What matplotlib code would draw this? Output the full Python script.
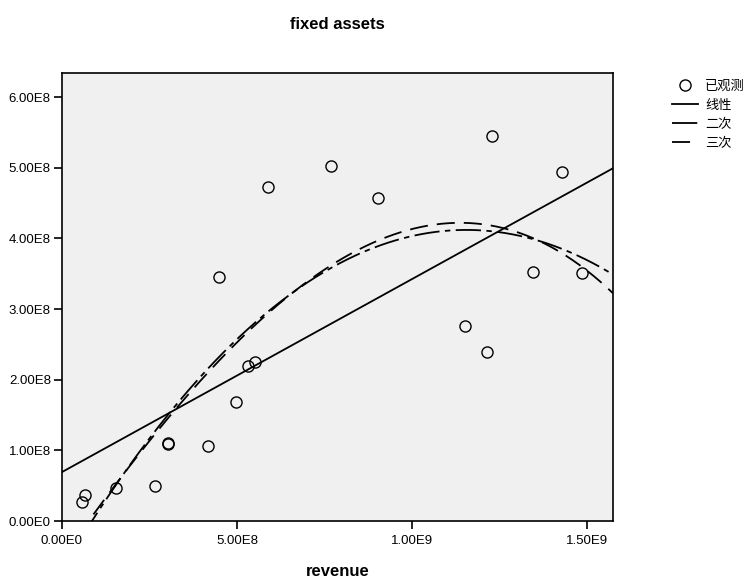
import numpy as np
import matplotlib
matplotlib.use("Agg")
import matplotlib.pyplot as plt
from matplotlib.ticker import FuncFormatter, MultipleLocator
from matplotlib.lines import Line2D

plt.rcParams['font.family'] = ['Liberation Sans', 'Noto Sans CJK SC', 'DejaVu Sans']

revenue = [0.571e8, 0.657e8, 1.54e8, 2.66e8, 3.02e8, 3.04e8, 4.17e8, 4.49e8, 4.97e8,
           5.31e8, 5.51e8, 5.89e8, 7.69e8, 9.03e8, 11.51e8, 12.14e8, 12.29e8,
           13.46e8, 14.29e8, 14.86e8]
fixed_assets = [0.269e8, 0.368e8, 0.467e8, 0.495e8, 1.10e8, 1.09e8, 1.06e8, 3.45e8, 1.68e8,
                2.19e8, 2.25e8, 4.72e8, 5.02e8, 4.57e8, 2.76e8, 2.39e8, 5.45e8,
                3.52e8, 4.94e8, 3.51e8]
legend_labels = ["已观测", "线性", "二次", "三次"]

x = np.array(revenue)
y = np.array(fixed_assets)

fig = plt.figure(figsize=(7.45, 5.78), dpi=100)
ax = fig.add_axes([0.0832, 0.0986, 0.8228 - 0.0832, 0.8737 - 0.0986])
ax.set_facecolor('#F0F0F0')

xmin, xmax = 0, 1.574e9
ymin, ymax = 0, 6.34e8
xs = np.linspace(xmin, xmax, 400)

p1 = np.polyfit(x, y, 1)
p2 = np.polyfit(x, y, 2)
p3 = np.polyfit(x, y, 3)

ax.plot(x, y, 'o', mfc='none', mec='black', ms=8, mew=1.0, zorder=5)
ax.plot(xs, np.polyval(p1, xs), '-', color='black', lw=1.3)
ax.plot(xs, np.polyval(p2, xs), color='black', lw=1.3, dashes=[14, 3, 3, 3])
ax.plot(xs, np.polyval(p3, xs), color='black', lw=1.3, dashes=[10, 5])

ax.set_xlim(xmin, xmax)
ax.set_ylim(ymin, ymax)
ax.xaxis.set_major_locator(MultipleLocator(5e8))
ax.yaxis.set_major_locator(MultipleLocator(1e8))


def fmt(v, pos):
    if v == 0:
        return "0.00E0"
    e = int(np.floor(np.log10(abs(v)) + 1e-9))
    m = v / 10 ** e
    return f"{m:.2f}E{e}"


ax.xaxis.set_major_formatter(FuncFormatter(fmt))
ax.yaxis.set_major_formatter(FuncFormatter(fmt))
ax.tick_params(direction='out', length=6, width=1.2, labelsize=9.5, colors='black', pad=2)
ax.tick_params(axis='x', pad=4)
for s in ax.spines.values():
    s.set_linewidth(1.2)

ax.set_title("fixed assets", fontsize=12, fontweight='bold', pad=32)
ax.set_xlabel("revenue", fontsize=12, fontweight='bold', labelpad=12)

handles = [
    Line2D([], [], marker='o', ls='none', mfc='none', mec='black', ms=8, mew=1.0),
    Line2D([], [], color='black', lw=1.3),
    Line2D([], [], color='black', lw=1.3, dashes=[14, 3, 3, 3]),
    Line2D([], [], color='black', lw=1.3, dashes=[10, 5]),
]
fig.legend(handles, legend_labels, loc='upper left', bbox_to_anchor=(0.886, 0.882),
           frameon=False, handlelength=2.0, handletextpad=0.5,
           labelspacing=0.45, prop={'family': ['Noto Sans CJK SC', 'DejaVu Sans'], 'size': 9.5})

fig.savefig("out.png", dpi=100)
